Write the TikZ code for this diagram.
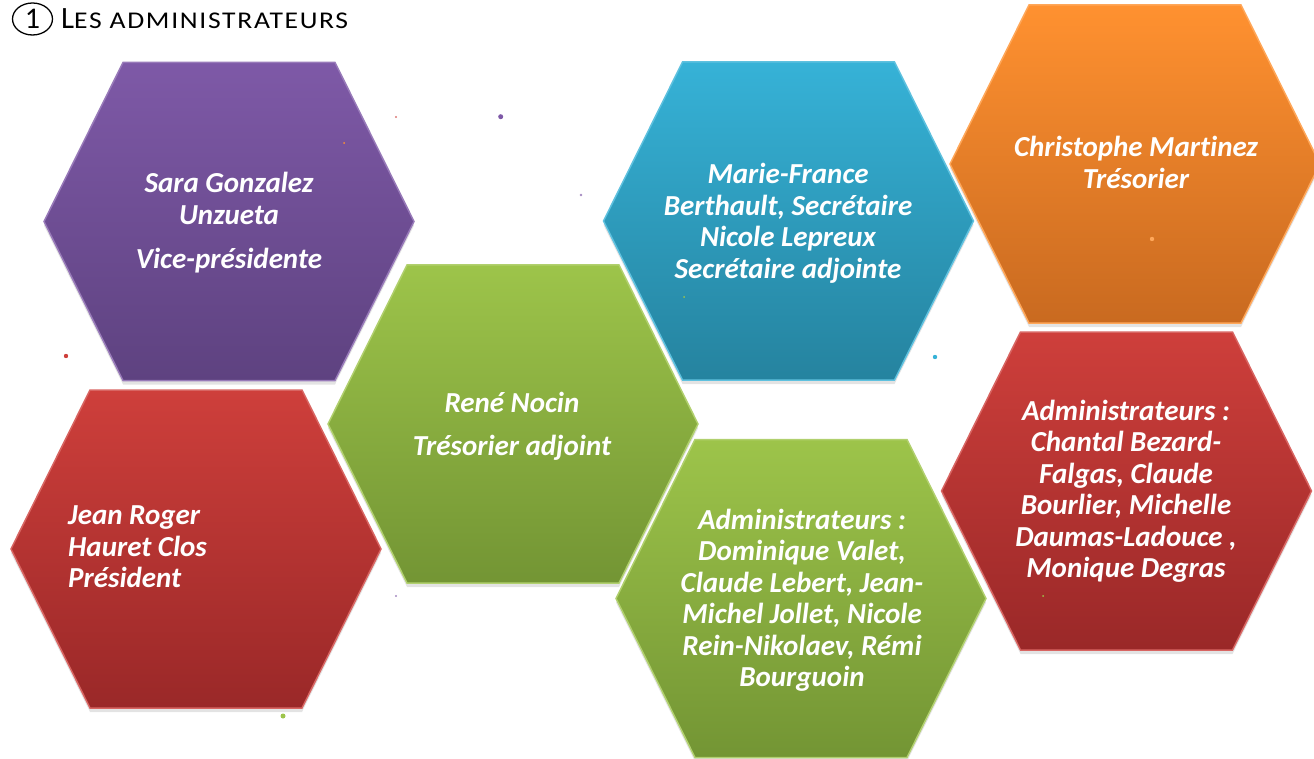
\documentclass[tikz,border=0pt]{standalone}
\usepackage{fontspec}
\setmainfont{Carlito}[RawFeature={-liga;-clig;-calt}]
\usetikzlibrary{shadows,shapes.geometric}

\definecolor{lilaoben}{HTML}{7E59A7}
\definecolor{lilaunten}{HTML}{5E4280}
\definecolor{rotoben}{HTML}{CE3F3B}
\definecolor{rotunten}{HTML}{9A2828}
\definecolor{gruenoben}{HTML}{9DC44A}
\definecolor{gruenunten}{HTML}{739534}
\definecolor{blauoben}{HTML}{36B2D7}
\definecolor{blauunten}{HTML}{25839F}
\definecolor{orangeoben}{HTML}{FF9130}
\definecolor{orangeunten}{HTML}{C96A20}

\begin{document}
\begin{tikzpicture}[x=1pt, y=-1pt,
    hexa/.style={line width=1.5pt, drop shadow={shadow xshift=0pt, shadow yshift=-4pt, opacity=0.22}},
    namen/.style={text=white, inner sep=0pt, align=center, font=\bfseries\itshape\fontsize{29}{31.5}\selectfont}]
    % Bildgroesse
        \useasboundingbox (0, 0) rectangle (1314, 759);

    % Titel
        \node[ellipse, draw, line width=1.3pt, minimum width=40pt, minimum height=32pt, inner sep=0pt, font=\fontsize{30}{30}\selectfont] (nummer) at (32.5, 19) {1};
        \node[anchor=base west, inner sep=0pt, font=\fontsize{31}{31}\selectfont] (titel) at (61, 28.5) {L{\fontsize{24}{24}\selectfont\addfontfeature{FakeStretch=1.15, LetterSpace=7}ES ADMINISTRATEURS}};

    % Sechsecke
        \draw[hexa, top color=lilaoben, bottom color=lilaunten, draw=lilaoben!80!white] (123, 62.5) -- ++(212, 0) -- ++(79, 159) -- ++(-79, 159) -- ++(-212, 0) -- ++(-79, -159) -- cycle;
        \draw[hexa, top color=rotoben, bottom color=rotunten, draw=rotoben!80!white] (90, 390) -- ++(212, 0) -- ++(79, 159) -- ++(-79, 159) -- ++(-212, 0) -- ++(-79, -159) -- cycle;
        \draw[hexa, top color=gruenoben, bottom color=gruenunten, draw=gruenoben!80!white] (407, 265) -- ++(212, 0) -- ++(79, 159) -- ++(-79, 159) -- ++(-212, 0) -- ++(-79, -159) -- cycle;
        \draw[hexa, top color=blauoben, bottom color=blauunten, draw=blauoben!80!white] (682.5, 62) -- ++(212, 0) -- ++(79, 159) -- ++(-79, 159) -- ++(-212, 0) -- ++(-79, -159) -- cycle;
        \draw[hexa, top color=gruenoben, bottom color=gruenunten, draw=gruenoben!80!white] (695, 439.5) -- ++(212, 0) -- ++(79, 159) -- ++(-79, 159) -- ++(-212, 0) -- ++(-79, -159) -- cycle;
        \draw[hexa, top color=orangeoben, bottom color=orangeunten, draw=orangeoben!80!white] (1029, 5) -- ++(212, 0) -- ++(79, 159) -- ++(-79, 159) -- ++(-212, 0) -- ++(-79, -159) -- cycle;
        \draw[hexa, top color=rotoben, bottom color=rotunten, draw=rotoben!80!white] (1020.5, 332) -- ++(212, 0) -- ++(79, 159) -- ++(-79, 159) -- ++(-212, 0) -- ++(-79, -159) -- cycle;

    % Punkte
        \fill[lilaoben] (500.7, 116.7) circle (2.5);
        \fill[rotoben!70!white] (396, 117) circle (1.2);
        \fill[lilaoben!70!white] (581, 195) circle (1.3);
        \fill[orangeoben] (344, 143) circle (1);
        \fill[rotoben] (66, 356) circle (2.2);
        \fill[blauoben] (935, 357) circle (2.2);
        \fill[gruenoben] (684, 297) circle (1);
        \fill[orangeoben!80!white] (1152, 239) circle (2.2);
        \fill[gruenoben] (283, 716) circle (2.5);
        \fill[lilaoben!70!white] (396, 596) circle (1.2);
        \fill[gruenoben] (1043, 596) circle (1);

    % Namen
        \node[namen] (vize) at (229, 223) {Sara Gonzalez\\Unzueta\\[13pt]Vice-présidente};
        \node[namen, align=left, anchor=west] (praesident) at (68, 547) {Jean Roger\\Hauret Clos\\Président};
        \node[namen] (schatzadj) at (512, 426.5) {René Nocin\\[12pt]Trésorier adjoint};
        \node[namen] (sekretaer) at (788, 223.5) {Marie-France\\Berthault, Secrétaire\\Nicole Lepreux\\Secrétaire adjointe};
        \node[namen] (schatz) at (1136, 162.5) {Christophe Mart\kern0pt inez\\Trésorier};
        \node[namen] (admin1) at (802, 600.5) {Administrateurs :\\Dominique Valet,\\Claude Lebert, Jean-\\Michel Jollet, Nicole\\Rein-Nikolaev, Rémi\\Bourguoin};
        \node[namen] (admin2) at (1126, 491.5) {Administrateurs :\\Chantal Bezard-\\Falgas, Claude\\Bourlier, Michelle\\Daumas-Ladouce ,\\Monique Degras};
\end{tikzpicture}
\end{document}
